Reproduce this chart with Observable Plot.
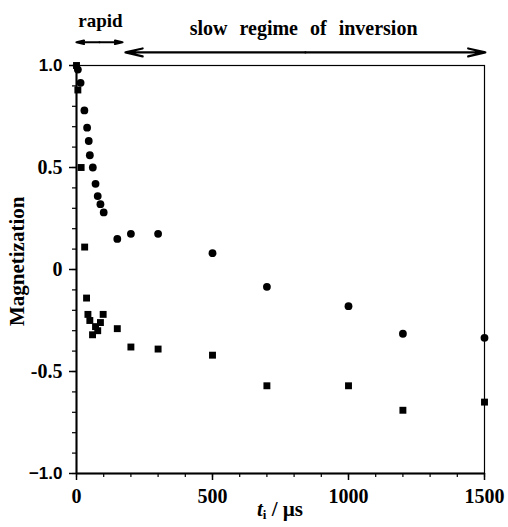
<!DOCTYPE html>
<html>
<head>
<meta charset="utf-8">
<script src="https://cdn.jsdelivr.net/npm/d3@7"></script>
<script src="https://cdn.jsdelivr.net/npm/@observablehq/plot@0.6"></script>
<style>
  html, body { margin: 0; padding: 0; background: #fff; }
</style>
</head>
<body>
<div id="chart"></div>
<script>
// ---- data ----
const circleX = [5, 15, 29, 39, 45, 49, 60, 70, 78, 88, 100, 150, 200, 300, 500, 700, 1000, 1200, 1500];
const circleY = [0.98, 0.915, 0.78, 0.695, 0.63, 0.56, 0.50, 0.42, 0.36, 0.32, 0.28, 0.15, 0.175, 0.175, 0.08, -0.085, -0.18, -0.315, -0.335];
const squareX = [0, 5, 17, 30, 37, 42, 49, 59, 70, 78, 88, 98, 150, 200, 300, 500, 700, 1000, 1200, 1500];
const squareY = [1.0, 0.88, 0.50, 0.11, -0.14, -0.22, -0.25, -0.32, -0.28, -0.30, -0.26, -0.22, -0.29, -0.38, -0.39, -0.42, -0.57, -0.57, -0.69, -0.65];

const xTicks = [0, 500, 1000, 1500];
const xTickLabels = ["0", "500", "1000", "1500"];
const xMinorTicks = d3.range(0, 1501, 100);
const yTicks = [1, 0.5, 0, -0.5, -1];
const yTickLabels = ["1.0", "0.5", "0", "-0.5", "\u22121.0"];
const yTickSans = [true, false, false, false, true];
const yMinorTicks = d3.range(-10, 11).map(d => d / 10);

const annText = ["rapid", "slow regime of inversion"];
const annX = [88, 835];
const annY = [1.19, 1.15];
const rangeStart = [0, 180];
const rangeEnd = [169, 1503];
const rangeY = [1.114, 1.064];

const yLabel = "Magnetization";

// ---- derived tables ----
const circles = circleX.map((x, i) => ({x, y: circleY[i]}));
const squares = squareX.map((x, i) => ({x, y: squareY[i]}));
const xLabelMap = new Map(xTicks.map((t, i) => [t, xTickLabels[i]]));
const ySans = yTicks.filter((t, i) => yTickSans[i]);
const ySerif = yTicks.filter((t, i) => !yTickSans[i]);
const yLabelMap = new Map(yTicks.map((t, i) => [t, yTickLabels[i]]));
const annotations = annText.map((t, i) => ({t, x: annX[i], y: annY[i]}));
const arrows = rangeStart.flatMap((s, i) => {
  const mid = (s + rangeEnd[i]) / 2;
  return [{x1: mid, x2: s, y: rangeY[i]}, {x1: mid, x2: rangeEnd[i], y: rangeY[i]}];
});

const serif = "Liberation Serif, Times New Roman, serif";
const sans = "Liberation Sans, Arial, sans-serif";

const plot = Plot.plot({
  width: 508,
  height: 527,
  marginLeft: 76,
  marginRight: 24,
  marginTop: 65,
  marginBottom: 54,
  style: {background: "#fff", color: "#000"},
  x: {domain: [0, 1500]},
  y: {domain: [-1, 1]},
  marks: [
    Plot.frame({stroke: "#000", strokeWidth: 1.2}),
    Plot.ruleX([0], {stroke: "#000", strokeWidth: 2}),
    Plot.ruleY([-1], {stroke: "#000", strokeWidth: 2}),
    // minor ticks
    Plot.axisX(xMinorTicks, {tickSize: 4, tickFormat: () => "", label: null, strokeWidth: 1.2}),
    Plot.axisY(yMinorTicks, {tickSize: 4, tickFormat: () => "", label: null, strokeWidth: 1.2}),
    // major ticks and labels
    Plot.axisX(xTicks, {
      tickSize: 7, tickPadding: 8, strokeWidth: 1.5, label: null,
      tickFormat: d => xLabelMap.get(d),
      fontFamily: serif, fontWeight: "bold", fontSize: 20, letterSpacing: 1
    }),
    Plot.axisY(ySerif, {
      tickSize: 7, tickPadding: 7, strokeWidth: 1.5, label: null,
      tickFormat: d => yLabelMap.get(d),
      fontFamily: serif, fontWeight: "bold", fontSize: 20, letterSpacing: 1
    }),
    Plot.axisY(ySans, {
      tickSize: 7, tickPadding: 7, strokeWidth: 1.5, label: null,
      tickFormat: d => yLabelMap.get(d),
      fontFamily: sans, fontWeight: "bold", fontSize: 17, letterSpacing: 1
    }),
    // y label
    Plot.text([yLabel], {
      x: () => 0, y: () => 0.04, text: d => d, dx: -59, rotate: -90,
      fontFamily: serif, fontWeight: "bold", fontSize: 21, fill: "#000"
    }),
    // annotations
    Plot.text(annotations.slice(0, 1), {
      x: "x", y: "y", text: "t", lineAnchor: "bottom",
      fontFamily: serif, fontWeight: "bold", fontSize: 19, letterSpacing: 1,
      fill: "#000"
    }),
    Plot.text(annotations.slice(1), {
      x: "x", y: "y", text: "t", lineAnchor: "bottom",
      fontFamily: serif, fontWeight: "bold", fontSize: 20, letterSpacing: 1.6,
      fill: "#000", className: "slow-note"
    }),
    Plot.arrow(arrows, {
      x1: "x1", x2: "x2", y1: "y", y2: "y",
      stroke: "#000", strokeWidth: 2.2, headAngle: 26, headLength: 12
    }),
    // data
    Plot.dot(circles, {x: "x", y: "y", r: 3.9, fill: "#000", stroke: "none"}),
    Plot.dot(squares, {x: "x", y: "y", r: 3.9, symbol: "square", fill: "#000", stroke: "none"})
  ]
});

document.getElementById("chart").appendChild(plot);

const svg = d3.select(plot);
// wider word spacing for the long annotation, as in the reference
svg.selectAll("text").filter(function() { return this.textContent === annText[1]; })
  .style("word-spacing", "7px");

// x-axis label with italic t and subscript i
const lab = svg.append("text")
  .attr("x", 280).attr("y", 516)
  .attr("text-anchor", "middle")
  .attr("font-family", serif)
  .attr("font-weight", "bold")
  .attr("font-size", 21)
  .attr("fill", "#000");
lab.append("tspan").attr("font-style", "italic").text("t");
lab.append("tspan").attr("font-size", 13).attr("dy", 3).text("i");
lab.append("tspan").attr("dy", -3).text(" / \u00b5s");
</script>
</body>
</html>
